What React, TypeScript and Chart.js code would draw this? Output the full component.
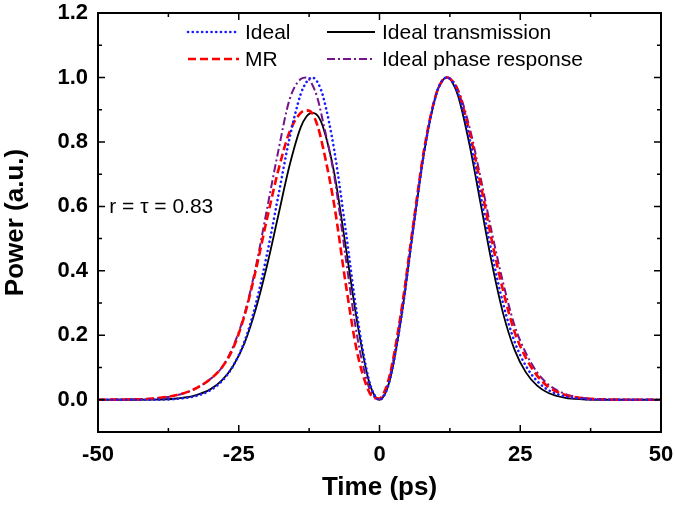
import React, { useEffect, useRef } from "react";
import { Chart, registerables } from "chart.js";

Chart.register(...registerables);

const FONT = "'Liberation Sans', Arial, Helvetica, sans-serif";

// Time axis (ps)
const timePs = [-50, -45, -40, -36, -33, -30, -28, -26, -24, -22, -20, -18, -16, -14, -13, -12, -11, -10, -8, -6, -4, -2, -1, 0, 1, 2, 4, 6, 8, 10, 11, 12, 13, 14, 16, 18, 20, 22, 24, 26, 28, 30, 33, 36, 40, 45, 50];

// Ideal (blue dotted)
const idealPower = [0, 0, 0.0003, 0.003, 0.01, 0.03, 0.058, 0.105, 0.18, 0.295, 0.45, 0.63, 0.81, 0.948, 0.985, 1.0, 0.985, 0.94, 0.77, 0.525, 0.265, 0.07, 0.018, 0, 0.019, 0.073, 0.27, 0.53, 0.775, 0.943, 0.986, 1.0, 0.985, 0.948, 0.81, 0.63, 0.45, 0.295, 0.18, 0.105, 0.058, 0.03, 0.01, 0.003, 0.0003, 0, 0];

// Ideal transmission (black solid)
const transmissionPower = [0, 0, 0.0005, 0.004, 0.012, 0.033, 0.06, 0.105, 0.175, 0.28, 0.415, 0.57, 0.725, 0.845, 0.878, 0.89, 0.882, 0.845, 0.7, 0.475, 0.245, 0.065, 0.017, 0, 0.019, 0.073, 0.27, 0.53, 0.775, 0.943, 0.986, 1.0, 0.983, 0.94, 0.79, 0.605, 0.42, 0.265, 0.155, 0.085, 0.044, 0.021, 0.006, 0.0015, 0, 0, 0];

// MR (red dashed)
const mrPower = [0, 0.001, 0.004, 0.015, 0.032, 0.065, 0.1, 0.16, 0.26, 0.4, 0.56, 0.71, 0.83, 0.89, 0.898, 0.89, 0.85, 0.78, 0.6, 0.36, 0.15, 0.03, 0.006, 0.004, 0.03, 0.09, 0.29, 0.545, 0.785, 0.945, 0.986, 1.0, 0.988, 0.955, 0.83, 0.665, 0.49, 0.335, 0.21, 0.13, 0.075, 0.04, 0.015, 0.005, 0.001, 0, 0];

// Ideal phase response (purple dash-dot)
const phasePower = [0, 0.001, 0.004, 0.014, 0.032, 0.065, 0.1, 0.165, 0.265, 0.41, 0.59, 0.77, 0.93, 0.995, 1.0, 0.98, 0.935, 0.86, 0.69, 0.44, 0.2, 0.045, 0.01, 0.002, 0.025, 0.085, 0.285, 0.54, 0.78, 0.945, 0.986, 1.0, 0.99, 0.96, 0.845, 0.685, 0.515, 0.36, 0.23, 0.145, 0.085, 0.047, 0.018, 0.006, 0.0015, 0, 0];

const xTickValues = [-50, -25, 0, 25, 50];
const xMinorTicks = [-37.5, -12.5, 12.5, 37.5];
const yTickValues = [0, 0.2, 0.4, 0.6, 0.8, 1.0, 1.2];
const yMinorTicks = [0.1, 0.3, 0.5, 0.7, 0.9, 1.1];

const seriesLabels = ["Ideal", "MR", "Ideal phase response", "Ideal transmission"];
const annotationText = "r = \u03c4 = 0.83";

export default function App() {
  const ref = useRef<HTMLCanvasElement>(null);

  useEffect(() => {
    if (!ref.current) return;
    const pts = (arr: number[]) => timePs.map((t, i) => ({ x: t, y: arr[i] }));

    const framePlugin = {
      id: "frameAndLegend",
      afterDraw(chart: any) {
        const { ctx, chartArea: a, scales } = chart;
        const xs = scales.x;
        const ys = scales.y;
        ctx.save();
        ctx.strokeStyle = "#000";
        ctx.setLineDash([]);
        ctx.lineWidth = 2;
        ctx.strokeRect(a.left, a.top, a.right - a.left, a.bottom - a.top);
        ctx.lineWidth = 1.5;
        const major = 7;
        const minor = 4;
        const vx = (v: number, len: number) => {
          const p = xs.getPixelForValue(v);
          ctx.beginPath();
          ctx.moveTo(p, a.bottom);
          ctx.lineTo(p, a.bottom - len);
          ctx.moveTo(p, a.top);
          ctx.lineTo(p, a.top + len);
          ctx.stroke();
        };
        const vy = (v: number, len: number) => {
          const p = ys.getPixelForValue(v);
          ctx.beginPath();
          ctx.moveTo(a.left, p);
          ctx.lineTo(a.left + len, p);
          ctx.moveTo(a.right, p);
          ctx.lineTo(a.right - len, p);
          ctx.stroke();
        };
        xTickValues.forEach((v) => vx(v, major));
        xMinorTicks.forEach((v) => vx(v, minor));
        yTickValues.forEach((v) => vy(v, major));
        yMinorTicks.forEach((v) => vy(v, minor));

        // legend (two columns inside plot)
        const ds = chart.data.datasets;
        const byLabel = (l: string) => ds.find((d: any) => d.label === l);
        const items = [
          { d: byLabel("Ideal"), x1: a.left + 90, x2: a.left + 141, tx: a.left + 147, y: a.top + 19 },
          { d: byLabel("MR"), x1: a.left + 90, x2: a.left + 141, tx: a.left + 147, y: a.top + 46 },
          { d: byLabel("Ideal transmission"), x1: a.left + 229, x2: a.left + 277, tx: a.left + 284, y: a.top + 19 },
          { d: byLabel("Ideal phase response"), x1: a.left + 229, x2: a.left + 277, tx: a.left + 284, y: a.top + 46 },
        ];
        ctx.font = `21px ${FONT}`;
        ctx.textAlign = "left";
        ctx.textBaseline = "middle";
        items.forEach((it) => {
          if (!it.d) return;
          ctx.save();
          ctx.strokeStyle = it.d.borderColor;
          ctx.lineWidth = it.d.borderWidth;
          ctx.lineCap = it.d.borderCapStyle || "butt";
          ctx.setLineDash(it.d.borderDash || []);
          ctx.beginPath();
          ctx.moveTo(it.x1, it.y);
          ctx.lineTo(it.x2, it.y);
          ctx.stroke();
          ctx.restore();
          ctx.fillStyle = "#000";
          ctx.fillText(it.d.label, it.tx, it.y + 1);
        });

        // annotation
        ctx.fillStyle = "#000";
        ctx.fillText(annotationText, xs.getPixelForValue(-48), ys.getPixelForValue(0.6) + 1);
        ctx.restore();
      },
    };

    const tickFont = { family: FONT, size: 22, weight: "bold" as const };
    const titleFont = { family: FONT, size: 26, weight: "bold" as const };

    const chart = new Chart(ref.current, {
      type: "line",
      data: {
        datasets: [
          {
            label: seriesLabels[0],
            data: pts(idealPower),
            borderColor: "#1a1aff",
            borderWidth: 2.6,
            borderDash: [0.1, 4.6],
            borderCapStyle: "round",
            pointRadius: 0,
            cubicInterpolationMode: "monotone",
            fill: false,
          },
          {
            label: seriesLabels[1],
            data: pts(mrPower),
            borderColor: "#ff0000",
            borderWidth: 2.6,
            borderDash: [8, 4],
            pointRadius: 0,
            cubicInterpolationMode: "monotone",
            fill: false,
          },
          {
            label: seriesLabels[2],
            data: pts(phasePower),
            borderColor: "#74138c",
            borderWidth: 2,
            borderDash: [8, 3, 2, 3],
            pointRadius: 0,
            cubicInterpolationMode: "monotone",
            fill: false,
          },
          {
            label: seriesLabels[3],
            data: pts(transmissionPower),
            borderColor: "#000000",
            borderWidth: 1.8,
            pointRadius: 0,
            cubicInterpolationMode: "monotone",
            fill: false,
          },
        ],
      } as any,
      options: {
        responsive: false,
        animation: false,
        devicePixelRatio: 1,
        layout: { padding: { left: 0, top: 13, right: 14, bottom: 0 } },
        plugins: { legend: { display: false }, tooltip: { enabled: false } },
        scales: {
          x: {
            type: "linear",
            min: -50,
            max: 50,
            afterBuildTicks: (s: any) => {
              s.ticks = xTickValues.map((v) => ({ value: v }));
            },
            afterFit: (s: any) => {
              s.height = 78;
              s.paddingLeft = 0;
              s.paddingRight = 0;
            },
            ticks: { font: tickFont, color: "#000", padding: 10, maxRotation: 0, callback: (v: any) => String(v) },
            grid: { display: false, drawTicks: false },
            border: { display: false },
            title: { display: true, text: "Time (ps)", font: titleFont, color: "#000", padding: { top: 0, bottom: 7 } },
          },
          y: {
            type: "linear",
            min: -0.1,
            max: 1.2,
            afterBuildTicks: (s: any) => {
              s.ticks = yTickValues.map((v) => ({ value: v }));
            },
            afterFit: (s: any) => {
              s.width = 98;
              s.paddingTop = 0;
              s.paddingBottom = 0;
            },
            ticks: { font: tickFont, color: "#000", padding: 10, callback: (v: any) => Number(v).toFixed(1) },
            grid: { display: false, drawTicks: false },
            border: { display: false },
            title: { display: true, text: "Power (a.u.)", font: titleFont, color: "#000", padding: { top: 0, bottom: 0 } },
          },
        },
      } as any,
      plugins: [framePlugin],
    });
    return () => chart.destroy();
  }, []);

  return (
    <div style={{ position: "absolute", left: 0, top: 0, width: 675, height: 510, background: "#fff" }}>
      <canvas ref={ref} width={675} height={510} style={{ display: "block" }} />
    </div>
  );
}
